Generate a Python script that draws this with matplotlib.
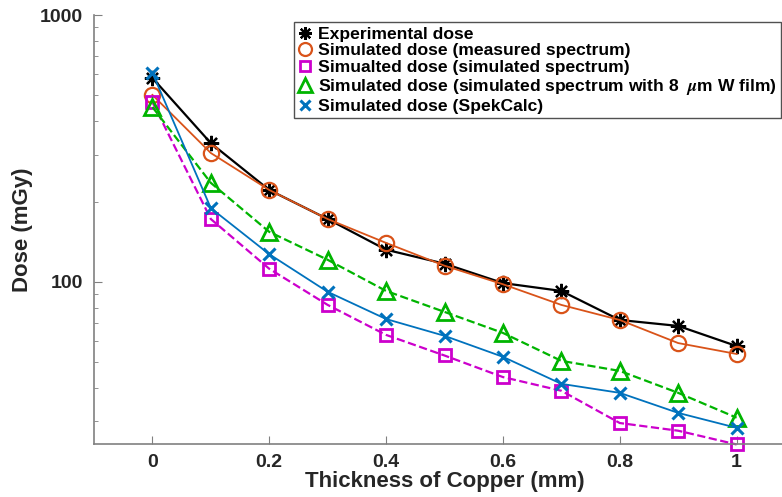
import matplotlib
matplotlib.use("Agg")
import matplotlib.pyplot as plt
from matplotlib.lines import Line2D

plt.rcParams['font.family'] = ['Liberation Sans', 'DejaVu Sans']
plt.rcParams['font.weight'] = 'bold'
plt.rcParams['mathtext.fontset'] = 'stix'

# copper thickness (mm)
thickness = [0, 0.1, 0.2, 0.3, 0.4, 0.5, 0.6, 0.7, 0.8, 0.9, 1.0]

# dose values (mGy)
experimental = [581, 331, 221, 172, 132, 117, 99, 92.5, 72, 68.4, 57.5]
sim_measured = [502, 304, 221, 172, 140, 115, 98, 82, 72, 59, 53.7]
sim_simulated = [472, 172, 112, 82, 63.3, 53, 44, 39.1, 29.6, 27.7, 24.6]
sim_wfilm = [452, 235, 154, 121, 92.5, 77.2, 64.4, 50.6, 46.4, 38.4, 31]
sim_spekcalc = [607, 189, 127, 91.8, 72.6, 62.8, 52.4, 41.5, 38.4, 32.3, 28.4]

labels = ["Experimental dose",
          "Simulated dose (measured spectrum)",
          "Simualted dose (simulated spectrum)",
          r"Simulated dose (simulated spectrum with 8  $\mu$m W film)",
          "Simulated dose (SpekCalc)"]

c_black = 'black'
c_red = '#D95319'
c_mag = '#CC00CC'
c_green = '#00B400'
c_blue = '#0072BD'

fig = plt.figure(figsize=(7.82, 4.97), dpi=100)
# axes runs past the right edge, like the cropped original
ax = fig.add_axes([94 / 782, 1 - 444 / 497, (795 - 94) / 782, (444 - 15) / 497])

ast = (8, 2, 0)
styles = [
    (experimental, c_black, '-', ast, 11, 1.6, 1.6),
    (sim_measured, c_red, '-', 'o', 11, 1.6, 1.3),
    (sim_simulated, c_mag, '--', 's', 8, 2.0, 1.6),
    (sim_wfilm, c_green, '--', '^', 12, 2.0, 1.6),
    (sim_spekcalc, c_blue, '-', 'x', 9, 2.2, 1.3),
]

handles = []
for (vals, col, ls, mk, ms, mew, lw), lab in zip(styles, labels):
    ax.plot(thickness, vals, color=col, linestyle=ls, linewidth=lw,
            marker=mk, markersize=ms, markeredgewidth=mew,
            markerfacecolor='none', clip_on=False)
    handles.append(Line2D([], [], color=col, linestyle='none', marker=mk,
                          markersize=ms * 0.85, markeredgewidth=mew,
                          markerfacecolor='none', label=lab))

ax.set_yscale('log')
ax.set_ylim(24.7, 1000)
ax.set_xlim(-0.1, 1.1)
ax.set_xticks([0, 0.2, 0.4, 0.6, 0.8, 1])
ax.set_xticklabels(['0', '0.2', '0.4', '0.6', '0.8', '1'])
ax.set_yticks([100, 1000])
ax.set_yticklabels(['100', '1000'])

for s in ['top', 'right']:
    ax.spines[s].set_visible(False)
for s in ['left', 'bottom']:
    ax.spines[s].set_color('#808080')
    ax.spines[s].set_linewidth(1.2)

ax.tick_params(which='both', direction='in', colors='#808080',
               labelcolor='#262626', labelsize=14)
ax.tick_params(which='major', length=6)
ax.tick_params(which='minor', length=3)
ax.tick_params(axis='x', pad=7)
ax.tick_params(axis='y', pad=8)
ax.yaxis.set_minor_formatter(matplotlib.ticker.NullFormatter())

ax.set_xlabel('Thickness of Copper (mm)', fontsize=16, fontweight='bold',
              color='#262626', labelpad=0)
ax.set_ylabel('Dose (mGy)', fontsize=16, fontweight='bold',
              color='#262626', labelpad=5)

leg = fig.legend(handles=handles, loc='upper left',
                 bbox_to_anchor=(294 / 782, 1 - 22 / 497),
                 fontsize=12.6, frameon=True, fancybox=False,
                 handlelength=0.8, handletextpad=0.35, labelspacing=0.09,
                 borderpad=0.25, borderaxespad=0, edgecolor='#262626')
leg.get_frame().set_linewidth(1.0)
for t in leg.get_texts():
    t.set_fontweight('bold')

fig.savefig('out.png', dpi=100)
